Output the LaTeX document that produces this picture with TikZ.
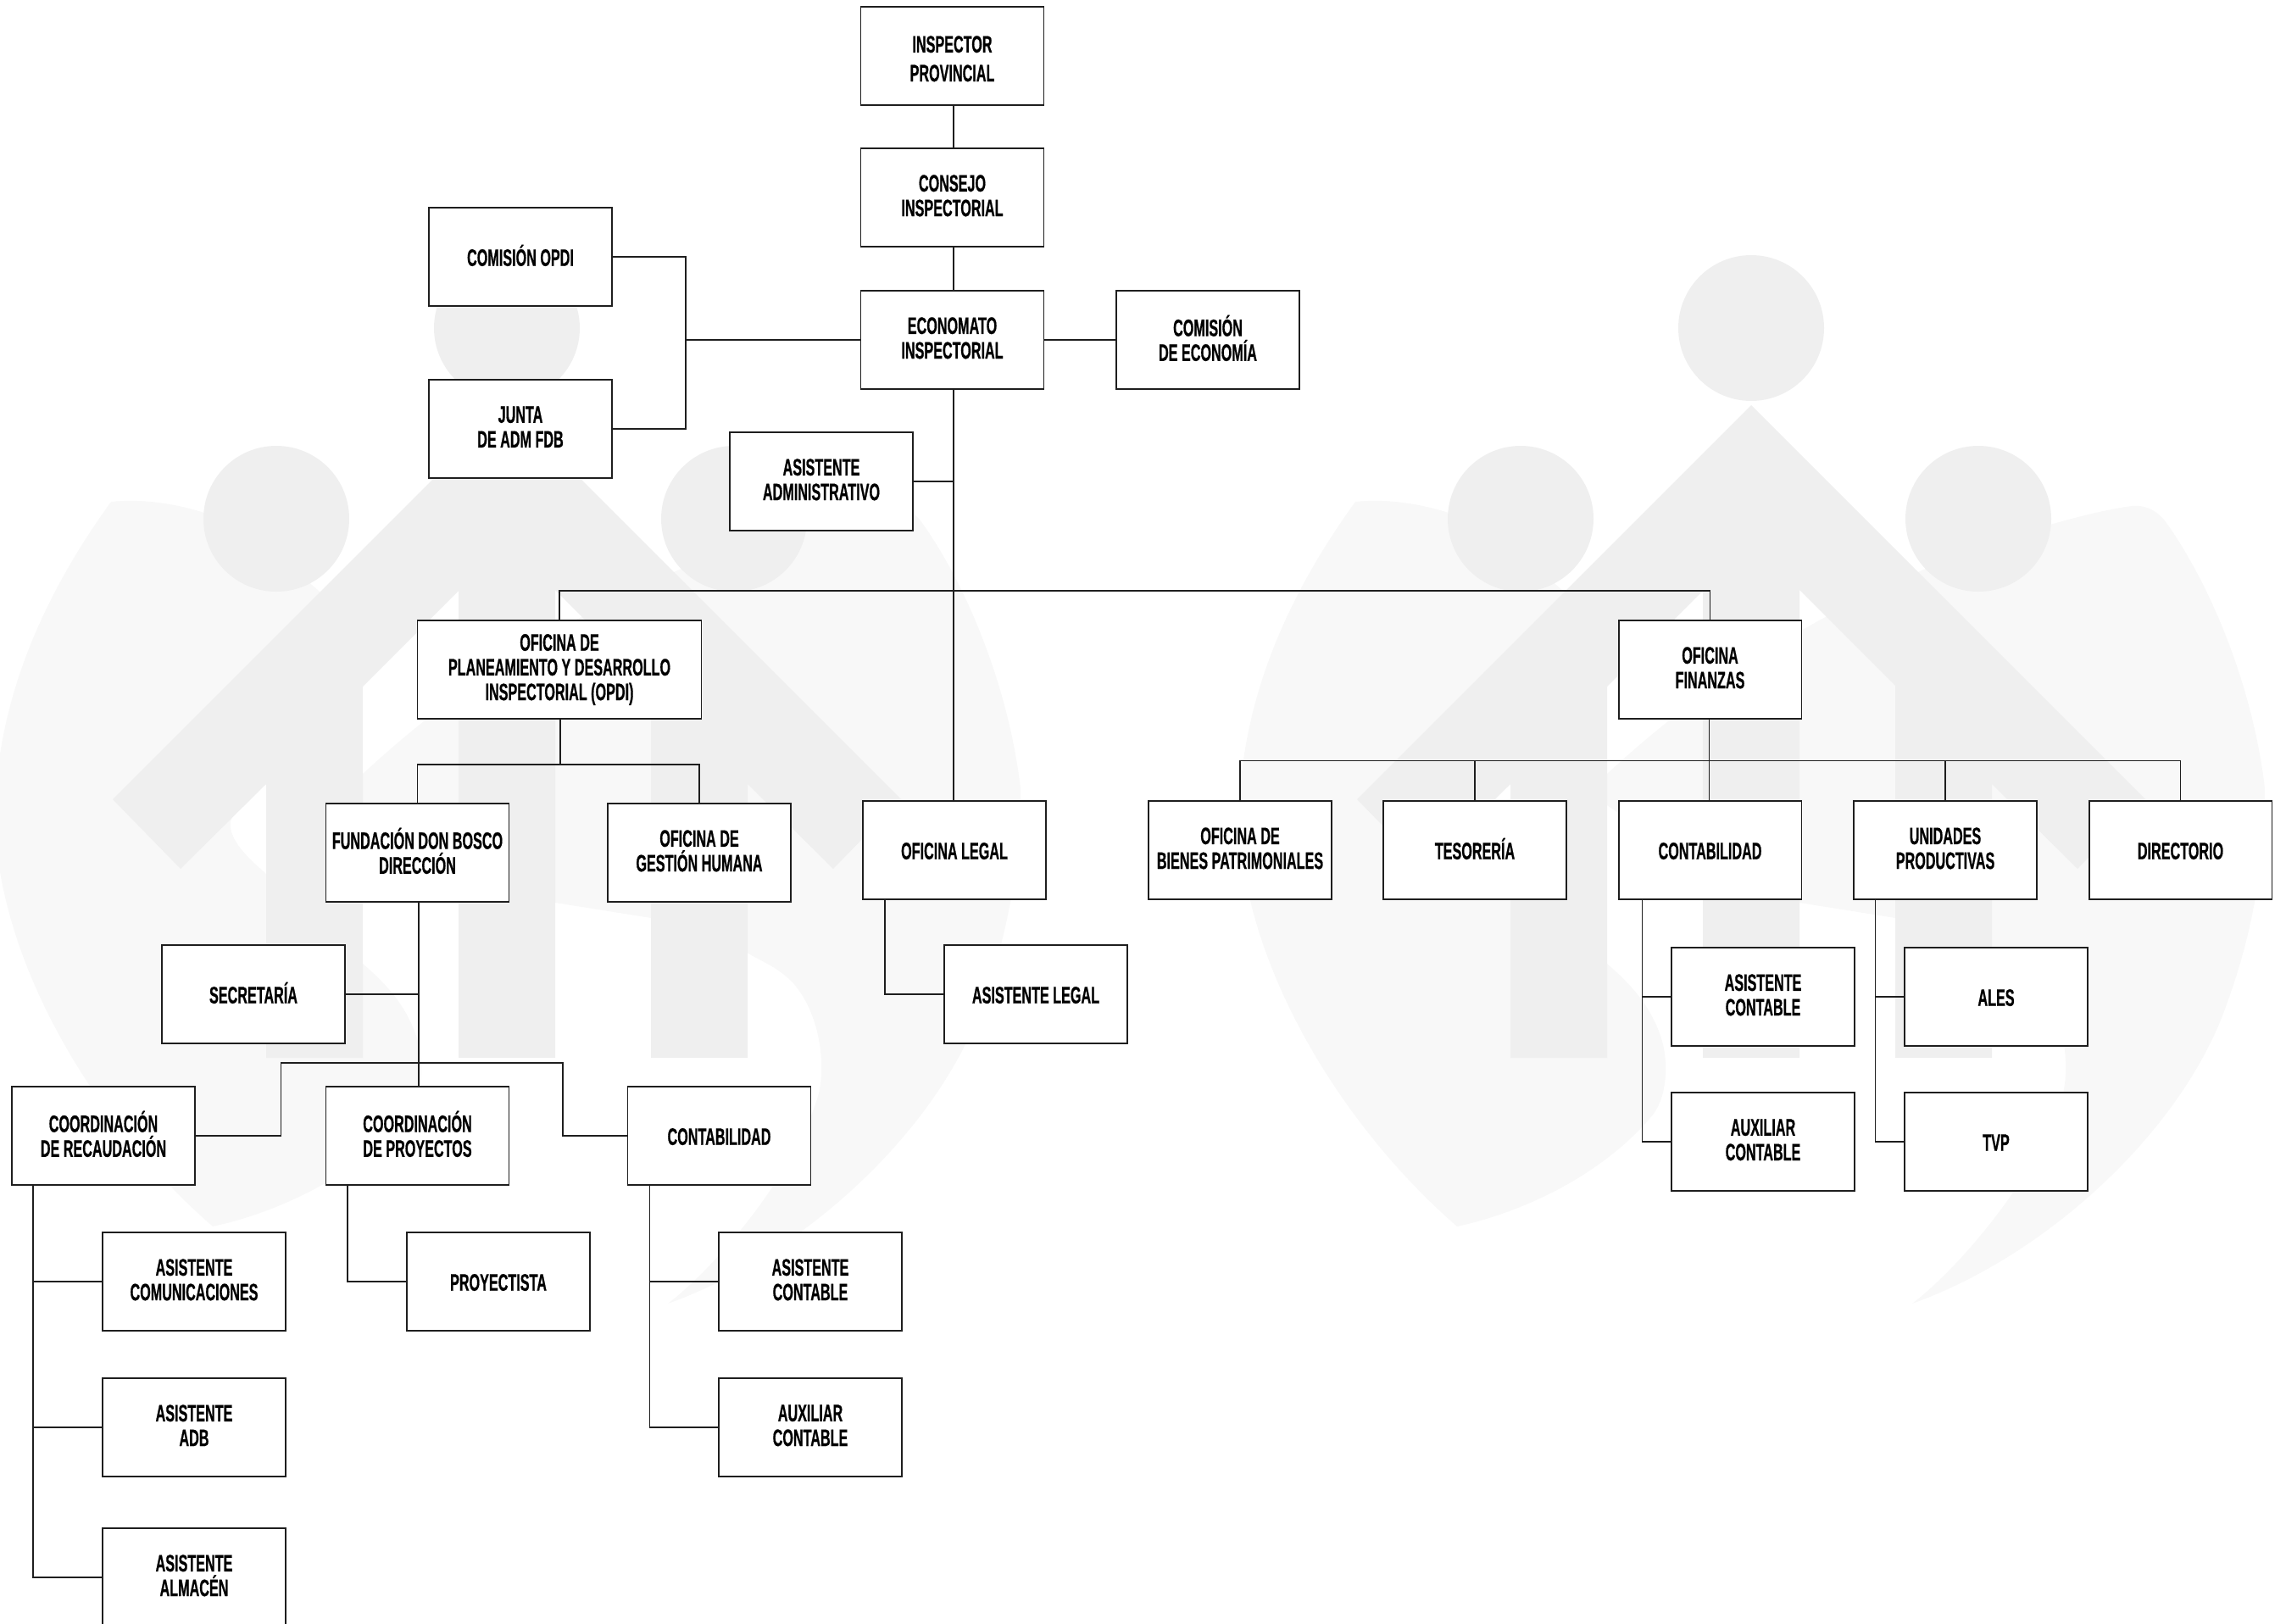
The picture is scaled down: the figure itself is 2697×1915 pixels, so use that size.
\documentclass[tikz,border=0pt]{standalone}
\usepackage{fontspec}
\setmainfont{Liberation Sans}[FakeStretch=0.575,BoldFeatures={FakeBold=0.6}]
\definecolor{wmlight}{HTML}{F8F8F8}
\definecolor{wmdark}{HTML}{EFEFEF}
\definecolor{ink}{HTML}{1E1E1E}
\tikzset{
  orgbox/.style={draw=ink,fill=white,line width=0.45pt,minimum width=2.155cm,minimum height=1.155cm,inner sep=0pt,align=center,text=black,
    font=\fontsize{8}{8.3}\selectfont\bfseries,
    execute at begin node={\rule{0pt}{7.4pt}},
    execute at end node={\rule[-1.3pt]{0pt}{0pt}}},
  widebox/.style={orgbox,minimum width=3.35cm},
  link/.style={draw=ink,line width=0.45pt}
}
\newcommand{\wmlogo}{%
  \fill[wmlight] (131,592)
     .. controls (170,588) and (210,595) .. (241,605)
     .. controls (300,630) and (340,665) .. (385,705)
     -- (390,720) -- (300,880) -- (272,970)
     .. controls (270,990) and (290,1010) .. (313,1030)
     .. controls (340,1060) and (390,1100) .. (428,1137)
     .. controls (455,1160) and (480,1187) .. (492,1225)
     .. controls (500,1250) and (500,1290) .. (483,1314)
     .. controls (425,1385) and (330,1430) .. (251,1447)
     .. controls (105,1320) and (-10,1120) .. (-6,950)
     .. controls (0,810) and (60,690) .. (131,592) -- cycle;
  \fill[wmlight] (1047,597)
     .. controls (1065,595) and (1080,605) .. (1088,617)
     .. controls (1140,690) and (1190,810) .. (1204,930)
     .. controls (1205,1010) and (1190,1100) .. (1160,1182)
     .. controls (1110,1330) and (950,1480) .. (788,1538)
     .. controls (850,1490) and (940,1380) .. (966,1290)
     .. controls (975,1250) and (965,1190) .. (933,1157)
     .. controls (915,1140) and (900,1135) .. (883,1125)
     -- (768,1083) -- (655,1065) -- (600,1055) -- (500,1000) -- (428,950) -- (428,913)
     .. controls (560,790) and (700,715) .. (797,674)
     .. controls (900,630) and (1000,603) .. (1047,597) -- cycle;
  \fill[wmdark] (598,478) -- (1063,943) -- (983,1025) -- (882,925) -- (882,1248) -- (768,1248)
     -- (768,809) -- (655,696) -- (655,1248) -- (541,1248) -- (541,697) -- (428,810)
     -- (428,1248) -- (314,1248) -- (314,925) -- (213,1025) -- (133,943) -- cycle;
  \fill[wmdark] (598,387) circle [radius=86];
  \fill[wmdark] (326,612) circle [radius=86];
  \fill[wmdark] (866,612) circle [radius=86];
}
\begin{document}
\begin{tikzpicture}[x=0.01cm,y=-0.01cm]
\clip (0,0) rectangle (2697,1915);
\useasboundingbox (0,0) rectangle (2697,1915);
\wmlogo
\begin{scope}[shift={(1468,0)}]\wmlogo\end{scope}

% boxes
\node[orgbox] (insp) at (1123.5,66) {\rule{0pt}{8.7pt}INSPECTOR\\[1.4pt]PROVINCIAL};
\node[orgbox] (cons) at (1123.5,233) {CONSEJO\\INSPECTORIAL};
\node[orgbox] (econ) at (1123.5,401) {ECONOMATO\\INSPECTORIAL};
\node[orgbox] (ceco) at (1425,401) {COMISIÓN\\DE ECONOMÍA};
\node[orgbox] (copdi) at (614,303) {COMISIÓN OPDI};
\node[orgbox] (junta) at (614,506) {JUNTA\\DE ADM FDB};
\node[orgbox] (aadm) at (969,568) {ASISTENTE\\ADMINISTRATIVO};
\node[widebox] (opdi) at (660,790) {OFICINA DE\\PLANEAMIENTO Y DESARROLLO\\INSPECTORIAL (OPDI)};
\node[orgbox] (finz) at (2017.5,790) {OFICINA\\FINANZAS};
\node[orgbox] (fund) at (492.5,1006) {FUNDACIÓN DON BOSCO\\DIRECCIÓN};
\node[orgbox] (gest) at (825,1006) {OFICINA DE\\GESTIÓN HUMANA};
\node[orgbox] (legal) at (1126,1003) {OFICINA LEGAL};
\node[orgbox] (alegal) at (1222,1173) {ASISTENTE LEGAL};
\node[orgbox] (secr) at (299,1173) {SECRETARÍA};
\node[orgbox] (crec) at (122,1340) {COORDINACIÓN\\DE RECAUDACIÓN};
\node[orgbox] (cproy) at (492.5,1340) {COORDINACIÓN\\DE PROYECTOS};
\node[orgbox] (conta) at (848.5,1340) {CONTABILIDAD};
\node[orgbox] (acom) at (229,1512) {ASISTENTE\\COMUNICACIONES};
\node[orgbox] (proy) at (588,1512) {PROYECTISTA};
\node[orgbox] (acon) at (956,1512) {ASISTENTE\\CONTABLE};
\node[orgbox] (aadb) at (229,1684) {ASISTENTE\\ADB};
\node[orgbox] (auxc) at (956,1684) {AUXILIAR\\CONTABLE};
\node[orgbox] (aalm) at (229,1861) {ASISTENTE\\ALMACÉN};
\node[orgbox] (bien) at (1463,1003) {OFICINA DE\\BIENES PATRIMONIALES};
\node[orgbox] (teso) at (1740,1003) {TESORERÍA};
\node[orgbox] (contb) at (2017.5,1003) {CONTABILIDAD};
\node[orgbox] (unid) at (2295,1003) {UNIDADES\\PRODUCTIVAS};
\node[orgbox] (dire) at (2572.5,1003) {DIRECTORIO};
\node[orgbox] (aconb) at (2080,1176) {ASISTENTE\\CONTABLE};
\node[orgbox] (auxb) at (2080,1347) {AUXILIAR\\CONTABLE};
\node[orgbox] (ales) at (2355,1176) {ALES};
\node[orgbox] (tvp) at (2355,1347) {TVP};

% junctions
\coordinate (trunk) at (1125,697);
\coordinate (jcom) at (809,401);
\coordinate (busop) at (661,902);
\coordinate (tfund) at (494,1254);
\coordinate (bl) at (331.5,1254);
\coordinate (br) at (664,1254);
\coordinate (tlegal) at (1044,1173);
\coordinate (trec) at (39,1514);
\coordinate (tproy) at (410,1512);
\coordinate (tcont) at (766.5,1514);
\coordinate (busfin) at (2016.6,897.5);
\coordinate (tcontb) at (1937.6,1176);
\coordinate (tunid) at (2212.5,1176);

% connectors
\draw[link] (trunk |- insp.south) -- (trunk |- cons.north);
\draw[link] (trunk |- cons.south) -- (trunk |- econ.north);
\draw[link] (trunk |- econ.south) -- (trunk |- legal.north);
\draw[link] (econ.east) -- (ceco.west);
\draw[link] (econ.west) -- (jcom);
\draw[link] (copdi.east) -| (jcom);
\draw[link] (junta.east) -| (jcom);
\draw[link] (aadm.east) -- (trunk |- aadm.east);
\draw[link] (opdi.north) |- (trunk) -| (finz.north);
\draw[link] (busop |- opdi.south) -- (busop);
\draw[link] (fund.north) |- (busop) -| (gest.north);
\draw[link] (tfund |- fund.south) -- (tfund |- cproy.north);
\draw[link] (secr.east) -- (tfund |- secr.east);
\draw[link] (crec.east) -| (bl) -- (br) |- (conta.west);
\draw[link] (tlegal |- legal.south) |- (alegal.west);
\draw[link] (trec |- crec.south) |- (aalm.west);
\draw[link] (trec |- acom.west) -- (acom.west);
\draw[link] (trec |- aadb.west) -- (aadb.west);
\draw[link] (tproy |- cproy.south) |- (proy.west);
\draw[link] (tcont |- conta.south) |- (auxc.west);
\draw[link] (tcont |- acon.west) -- (acon.west);
\draw[link] (busfin |- finz.south) -- (busfin |- contb.north);
\draw[link] (bien.north) |- (busfin) -| (dire.north);
\draw[link] (teso.north) |- (busfin);
\draw[link] (unid.north) |- (busfin);
\draw[link] (tcontb |- contb.south) |- (auxb.west);
\draw[link] (tcontb |- aconb.west) -- (aconb.west);
\draw[link] (tunid |- unid.south) |- (tvp.west);
\draw[link] (tunid |- ales.west) -- (ales.west);
\end{tikzpicture}
\end{document}
